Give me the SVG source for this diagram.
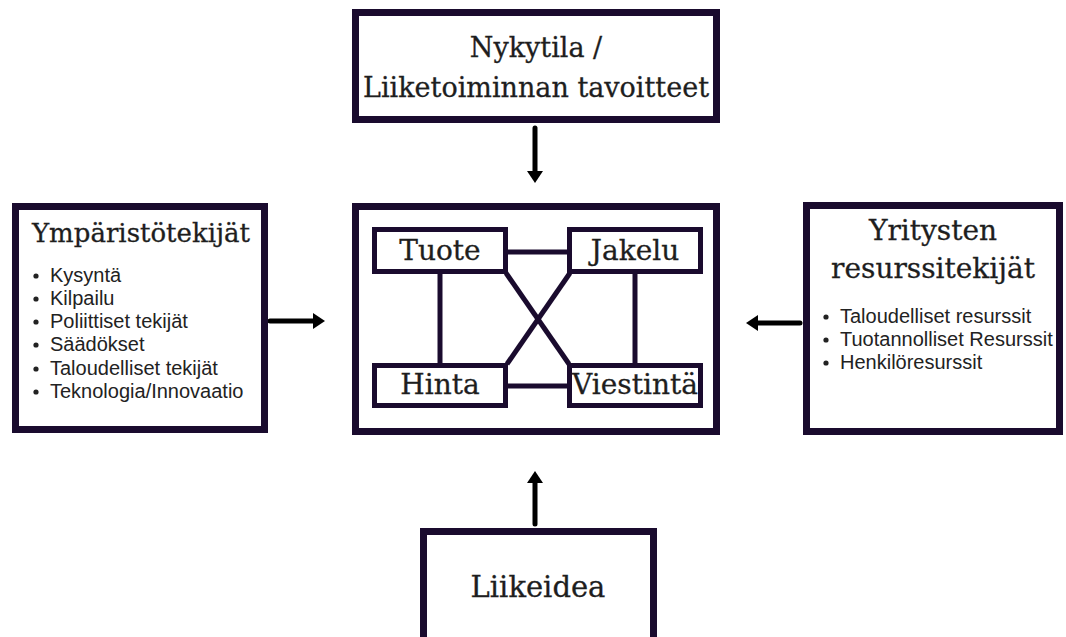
<svg xmlns="http://www.w3.org/2000/svg" width="1066" height="637" viewBox="0 0 1066 637">
  <style>
    .box { fill: #ffffff; stroke: #1a0b2e; stroke-width: 7; }
    .ibox { fill: #ffffff; stroke: #1a0b2e; stroke-width: 5; }
    .link { stroke: #1a0b2e; stroke-width: 5; fill: none; }
    .arrow { stroke: #000000; stroke-width: 5; stroke-linecap: round; fill: none; marker-end: url(#ah); }
    .serif { font-family: "DejaVu Serif", "Liberation Serif", serif; fill: #1e1e1e; text-anchor: middle; stroke: #1e1e1e; stroke-width: 0.3; }
    .sans { font-family: "Liberation Sans", Arial, sans-serif; fill: #222222; font-size: 20px; }
    .dot { fill: #222222; }
  </style>
  <defs>
    <marker id="ah" viewBox="0 0 12 16" refX="1" refY="8" markerWidth="12" markerHeight="16" markerUnits="userSpaceOnUse" orient="auto">
      <path d="M0,0 L12,8 L0,16 Z" fill="#000000"/>
    </marker>
  </defs>
  <rect width="1066" height="637" fill="#ffffff"/>

  <g id="connectors">
    <line class="arrow" x1="535" y1="128" x2="535" y2="172"/>
    <line class="arrow" x1="270" y1="321" x2="314" y2="321"/>
    <line class="arrow" x1="800" y1="323" x2="757" y2="323"/>
    <line class="arrow" x1="535" y1="524" x2="535" y2="482"/>
  </g>

  <g id="node-nykytila">
    <rect class="box" x="355.5" y="12.5" width="361" height="107"/>
    <text class="serif" x="536" y="57" font-size="27">Nykytila /</text>
    <text class="serif" x="536" y="97" font-size="27">Liiketoiminnan tavoitteet</text>
  </g>

  <g id="node-ymparisto">
    <rect class="box" x="15.5" y="206.5" width="249" height="223"/>
    <text class="serif" x="141" y="242" font-size="26">Ympäristötekijät</text>
    <circle class="dot" cx="36" cy="276" r="2.6"/>
    <text class="sans" x="50" y="282">Kysyntä</text>
    <circle class="dot" cx="36" cy="299" r="2.6"/>
    <text class="sans" x="50" y="305">Kilpailu</text>
    <circle class="dot" cx="36" cy="322" r="2.6"/>
    <text class="sans" x="50" y="328">Poliittiset tekijät</text>
    <circle class="dot" cx="36" cy="345" r="2.6"/>
    <text class="sans" x="50" y="351">Säädökset</text>
    <circle class="dot" cx="36" cy="369" r="2.6"/>
    <text class="sans" x="50" y="375">Taloudelliset tekijät</text>
    <circle class="dot" cx="36" cy="392" r="2.6"/>
    <text class="sans" x="50" y="398">Teknologia/Innovaatio</text>
  </g>

  <g id="node-mix">
    <rect class="box" x="355.5" y="206.5" width="361" height="225"/>
    <g id="mix-links">
      <line class="link" x1="508" y1="252" x2="567" y2="252"/>
      <line class="link" x1="508" y1="386" x2="567" y2="386"/>
      <line class="link" x1="440" y1="273" x2="440" y2="363"/>
      <line class="link" x1="635" y1="273" x2="635" y2="363"/>
      <line class="link" x1="506" y1="273" x2="569" y2="364"/>
      <line class="link" x1="570" y1="273" x2="507" y2="364"/>
    </g>
    <g id="node-tuote">
      <rect class="ibox" x="374.5" y="229.5" width="131" height="42"/>
      <text class="serif" x="440" y="260" font-size="28">Tuote</text>
    </g>
    <g id="node-jakelu">
      <rect class="ibox" x="569.5" y="229.5" width="131" height="42"/>
      <text class="serif" x="635" y="260" font-size="28">Jakelu</text>
    </g>
    <g id="node-hinta">
      <rect class="ibox" x="374.5" y="365.5" width="131" height="40"/>
      <text class="serif" x="440" y="394" font-size="28">Hinta</text>
    </g>
    <g id="node-viestinta">
      <rect class="ibox" x="569.5" y="365.5" width="131" height="40"/>
      <text class="serif" x="635" y="394" font-size="28">Viestintä</text>
    </g>
  </g>

  <g id="node-resurssit">
    <rect class="box" x="806.5" y="205.5" width="253" height="226"/>
    <text class="serif" x="933" y="240" font-size="28">Yritysten</text>
    <text class="serif" x="933" y="278" font-size="28">resurssitekijät</text>
    <circle class="dot" cx="826" cy="317" r="2.6"/>
    <text class="sans" x="840" y="323">Taloudelliset resurssit</text>
    <circle class="dot" cx="826" cy="340" r="2.6"/>
    <text class="sans" x="840" y="346">Tuotannolliset Resurssit</text>
    <circle class="dot" cx="826" cy="363" r="2.6"/>
    <text class="sans" x="840" y="369">Henkilöresurssit</text>
  </g>

  <g id="node-liikeidea">
    <rect class="box" x="423.5" y="531.5" width="230" height="120"/>
    <text class="serif" x="538" y="597" font-size="29">Liikeidea</text>
  </g>
</svg>
